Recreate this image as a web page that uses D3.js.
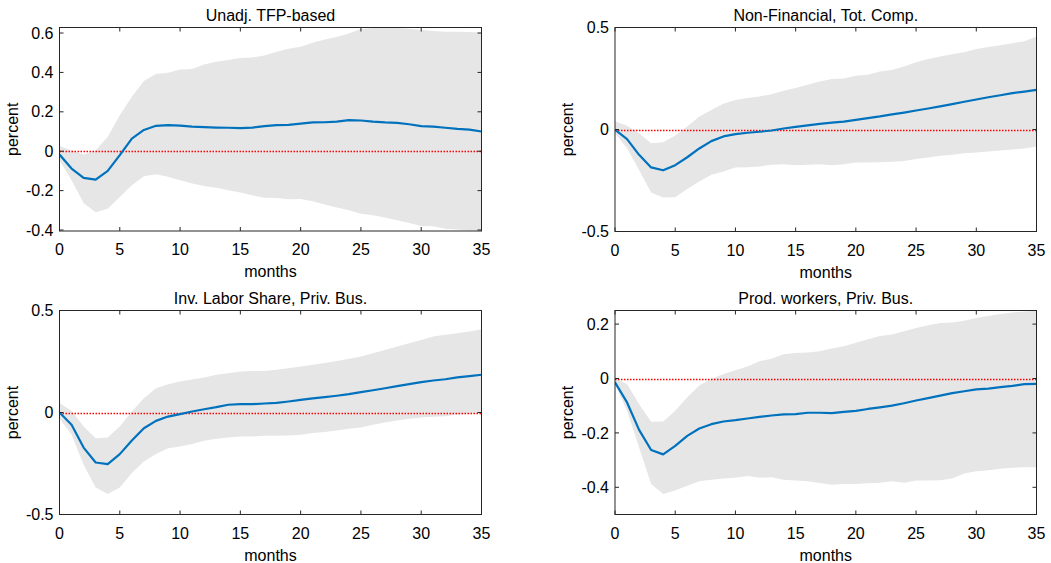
<!DOCTYPE html>
<html>
<head>
<meta charset="utf-8">
<script src="https://cdn.jsdelivr.net/npm/d3@7"></script>
<style>
  html, body { margin: 0; padding: 0; background: #fff; }
  svg { display: block; }
  text { font-family: "Liberation Sans", Arial, Helvetica, sans-serif; fill: #000; }
</style>
</head>
<body>
<svg id="chart" width="1051" height="563"></svg>
<script>
// ---------- Data ----------
const months = d3.range(0, 36);
const xTicks = [0, 5, 10, 15, 20, 25, 30, 35];

const titles = ["Unadj. TFP-based", "Non-Financial, Tot. Comp.", "Inv. Labor Share, Priv. Bus.", "Prod. workers, Priv. Bus."];

// Panel 1: Unadj. TFP-based
const tfpMid = [-0.017,-0.088,-0.135,-0.144,-0.100,-0.020,0.064,0.108,0.129,0.132,0.130,0.125,0.122,0.120,0.119,0.117,0.120,0.127,0.132,0.134,0.140,0.146,0.147,0.150,0.158,0.156,0.150,0.146,0.144,0.137,0.127,0.125,0.119,0.113,0.110,0.100];
const tfpUp  = [0.027,0.005,-0.017,0.005,0.073,0.183,0.276,0.356,0.392,0.398,0.415,0.417,0.440,0.454,0.463,0.473,0.476,0.486,0.505,0.520,0.530,0.550,0.567,0.580,0.598,0.620,0.625,0.627,0.625,0.622,0.615,0.610,0.607,0.607,0.605,0.602];
const tfpLo  = [-0.046,-0.147,-0.263,-0.310,-0.292,-0.232,-0.173,-0.127,-0.117,-0.130,-0.147,-0.164,-0.176,-0.185,-0.198,-0.210,-0.224,-0.236,-0.237,-0.244,-0.242,-0.254,-0.270,-0.286,-0.300,-0.317,-0.325,-0.337,-0.350,-0.364,-0.380,-0.381,-0.393,-0.398,-0.402,-0.402];

// Panel 2: Non-Financial, Tot. Comp.
const nfMid = [0.000,-0.047,-0.124,-0.186,-0.200,-0.175,-0.136,-0.093,-0.057,-0.034,-0.023,-0.016,-0.011,-0.005,0.005,0.013,0.020,0.028,0.034,0.039,0.047,0.056,0.064,0.074,0.083,0.093,0.103,0.113,0.124,0.136,0.147,0.158,0.168,0.178,0.186,0.194];
const nfUp  = [0.040,0.018,-0.018,-0.067,-0.062,-0.030,0.015,0.064,0.096,0.126,0.145,0.154,0.162,0.173,0.190,0.203,0.219,0.235,0.247,0.250,0.263,0.268,0.284,0.292,0.309,0.330,0.345,0.358,0.369,0.379,0.394,0.404,0.413,0.423,0.433,0.456];
const nfLo  = [-0.018,-0.092,-0.198,-0.309,-0.333,-0.332,-0.292,-0.255,-0.222,-0.206,-0.186,-0.185,-0.181,-0.173,-0.170,-0.175,-0.173,-0.170,-0.175,-0.170,-0.162,-0.162,-0.160,-0.158,-0.155,-0.145,-0.137,-0.129,-0.124,-0.116,-0.113,-0.108,-0.103,-0.098,-0.093,-0.083];

// Panel 3: Inv. Labor Share, Priv. Bus.
const lsMid = [0.000,-0.060,-0.172,-0.245,-0.253,-0.204,-0.137,-0.077,-0.041,-0.020,-0.008,0.005,0.016,0.026,0.038,0.041,0.041,0.044,0.047,0.054,0.062,0.069,0.075,0.082,0.090,0.100,0.109,0.119,0.129,0.139,0.149,0.157,0.163,0.172,0.178,0.185];
const lsUp  = [0.046,0.008,-0.069,-0.126,-0.123,-0.069,0.005,0.070,0.119,0.139,0.152,0.162,0.172,0.185,0.193,0.201,0.204,0.204,0.209,0.217,0.225,0.234,0.243,0.253,0.263,0.275,0.291,0.306,0.324,0.340,0.356,0.373,0.381,0.389,0.397,0.408];
const lsLo  = [-0.028,-0.109,-0.256,-0.368,-0.400,-0.368,-0.297,-0.240,-0.203,-0.175,-0.167,-0.155,-0.139,-0.129,-0.123,-0.118,-0.118,-0.114,-0.114,-0.113,-0.109,-0.101,-0.096,-0.088,-0.080,-0.074,-0.060,-0.049,-0.039,-0.031,-0.025,-0.021,-0.018,-0.011,-0.007,-0.002];

// Panel 4: Prod. workers, Priv. Bus.
const pwMid = [-0.014,-0.088,-0.189,-0.263,-0.279,-0.248,-0.211,-0.184,-0.168,-0.158,-0.153,-0.147,-0.141,-0.136,-0.132,-0.131,-0.126,-0.126,-0.127,-0.123,-0.119,-0.112,-0.106,-0.100,-0.091,-0.081,-0.072,-0.063,-0.054,-0.047,-0.040,-0.037,-0.032,-0.027,-0.021,-0.020];
const pwUp  = [0.000,-0.020,-0.094,-0.159,-0.158,-0.119,-0.069,-0.026,-0.001,0.017,0.030,0.044,0.063,0.073,0.089,0.094,0.096,0.100,0.110,0.119,0.131,0.144,0.156,0.162,0.174,0.186,0.196,0.204,0.206,0.212,0.222,0.230,0.237,0.243,0.246,0.249];
const pwLo  = [-0.020,-0.119,-0.254,-0.388,-0.425,-0.412,-0.394,-0.378,-0.372,-0.368,-0.365,-0.358,-0.365,-0.363,-0.372,-0.375,-0.378,-0.384,-0.391,-0.388,-0.388,-0.385,-0.383,-0.378,-0.383,-0.375,-0.375,-0.374,-0.368,-0.349,-0.341,-0.337,-0.332,-0.328,-0.326,-0.326];

const yDomains = [[-0.405, 0.628], [-0.5, 0.5], [-0.5, 0.5], [-0.5, 0.25]];
const yTicks = [[-0.4, -0.2, 0, 0.2, 0.4, 0.6], [-0.5, 0, 0.5], [-0.5, 0, 0.5], [-0.4, -0.2, 0, 0.2]];
const yTickLabels = [["-0.4", "-0.2", "0", "0.2", "0.4", "0.6"], ["-0.5", "0", "0.5"], ["-0.5", "0", "0.5"], ["-0.4", "-0.2", "0", "0.2"]];
const xLabel = "months";
const yLabel = "percent";

const mids = [tfpMid, nfMid, lsMid, pwMid];
const ups = [tfpUp, nfUp, lsUp, pwUp];
const los = [tfpLo, nfLo, lsLo, pwLo];

// ---------- Layout ----------
const boxes = [
  { l: 59.5, r: 481.5, t: 27.5, b: 231 },
  { l: 615, r: 1036.5, t: 27.5, b: 231.5 },
  { l: 59.5, r: 481.5, t: 310.5, b: 514.5 },
  { l: 615, r: 1036.5, t: 310.5, b: 514.5 }
];

const svg = d3.select("#chart");
const FS = 16;
const axisColor = "#262626";
const tickLen = 4;

boxes.forEach((bx, i) => {
  const x = d3.scaleLinear().domain([0, 35]).range([bx.l, bx.r]);
  const y = d3.scaleLinear().domain(yDomains[i]).range([bx.b, bx.t]);
  const g = svg.append("g");

  const clipId = "clip" + i;
  svg.append("clipPath").attr("id", clipId)
    .append("rect").attr("x", bx.l).attr("y", bx.t).attr("width", bx.r - bx.l).attr("height", bx.b - bx.t);

  const plot = g.append("g").attr("clip-path", `url(#${clipId})`);

  // confidence band
  const area = d3.area()
    .x((d, k) => x(months[k]))
    .y0((d, k) => y(los[i][k]))
    .y1((d, k) => y(ups[i][k]));
  plot.append("path").datum(months).attr("d", area).attr("fill", "#e6e6e6").attr("stroke", "none");

  // zero line
  const zy = Math.round(y(0)) + 0.5;
  plot.append("line")
    .attr("x1", x(0)).attr("x2", x(35)).attr("y1", zy).attr("y2", zy)
    .attr("stroke", "#ff0000").attr("stroke-width", 1.3).attr("stroke-dasharray", "1.5,1.5");

  // median response
  const line = d3.line().x((d, k) => x(months[k])).y(d => y(d));
  plot.append("path").datum(mids[i]).attr("d", line)
    .attr("fill", "none").attr("stroke", "#0072BD").attr("stroke-width", 2.2).attr("stroke-linejoin", "round");

  // box
  g.append("rect").attr("x", bx.l).attr("y", bx.t).attr("width", bx.r - bx.l).attr("height", bx.b - bx.t)
    .attr("fill", "none").attr("stroke", axisColor).attr("stroke-width", 1);

  // x ticks (bottom & top, inward)
  xTicks.forEach(v => {
    const px = x(v);
    g.append("line").attr("x1", px).attr("x2", px).attr("y1", bx.b).attr("y2", bx.b - tickLen).attr("stroke", axisColor);
    g.append("line").attr("x1", px).attr("x2", px).attr("y1", bx.t).attr("y2", bx.t + tickLen).attr("stroke", axisColor);
    g.append("text").attr("x", px).attr("y", bx.b + 24).attr("text-anchor", "middle")
      .attr("font-size", FS).text(String(v));
  });

  // y ticks (left & right, inward)
  yTicks[i].forEach((v, k) => {
    const py = y(v);
    g.append("line").attr("x1", bx.l).attr("x2", bx.l + tickLen).attr("y1", py).attr("y2", py).attr("stroke", axisColor);
    g.append("line").attr("x1", bx.r).attr("x2", bx.r - tickLen).attr("y1", py).attr("y2", py).attr("stroke", axisColor);
    g.append("text").attr("x", bx.l - 6).attr("y", py).attr("dy", "0.35em").attr("text-anchor", "end")
      .attr("font-size", FS).text(yTickLabels[i][k]);
  });

  // title
  g.append("text").attr("x", (bx.l + bx.r) / 2).attr("y", bx.t - 6.5).attr("text-anchor", "middle")
    .attr("font-size", FS).text(titles[i]);

  // x label
  g.append("text").attr("x", (bx.l + bx.r) / 2).attr("y", bx.b + 46).attr("text-anchor", "middle")
    .attr("font-size", FS).text(xLabel);

  // y label
  const cy = (bx.t + bx.b) / 2;
  const lx = bx.l - 42;
  g.append("text").attr("transform", `translate(${lx},${cy}) rotate(-90)`).attr("text-anchor", "middle")
    .attr("font-size", FS).text(yLabel);
});
</script>
</body>
</html>
